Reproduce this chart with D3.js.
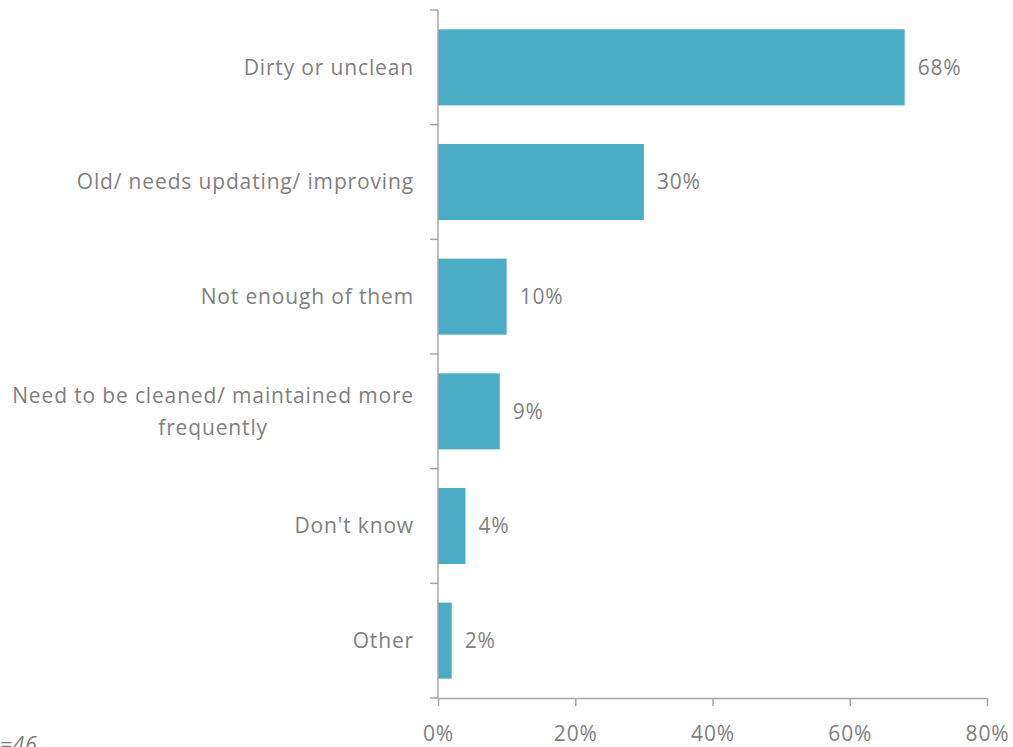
<!DOCTYPE html>
<html>
<head>
<meta charset="utf-8">
<script src="https://cdn.jsdelivr.net/npm/d3@7/dist/d3.min.js"></script>
<style>
  html, body { margin: 0; padding: 0; background: #fff; }
  svg { display: block; font-family: "Open Sans", "Noto Sans", sans-serif; letter-spacing: 0.85px; }
</style>
</head>
<body>
<svg id="chart" width="1013" height="747"></svg>
<script>
// Reasons given for rating the facilities poorly
const categories = [
  "Dirty or unclean",
  "Old/ needs updating/ improving",
  "Not enough of them",
  "Need to be cleaned/ maintained more|frequently",
  "Don't know",
  "Other"
];
const values = [0.68, 0.30, 0.10, 0.09, 0.04, 0.02];
const xTicks = [0, 0.2, 0.4, 0.6, 0.8];
const baseNote = "n=46";

const svg = d3.select("#chart");
const textColor = "#7f7f7f";
const axisColor = "#a6a6a6";
const barColor = "#4bacc6";
const fontSize = 21;

const plotTop = 10, plotBottom = 698;
const x = d3.scaleLinear().domain([0, 0.8]).range([438, 987]);
const y = d3.scaleBand().domain(categories).range([plotTop, plotBottom])
  .paddingInner(0.337).paddingOuter(0.1685);

// Bars
svg.append("g").selectAll("rect")
  .data(categories)
  .join("rect")
  .attr("x", x(0))
  .attr("y", d => y(d))
  .attr("width", (d, i) => x(values[i]) - x(0))
  .attr("height", y.bandwidth())
  .attr("fill", barColor);

// Value labels
svg.append("g").selectAll("text")
  .data(categories)
  .join("text")
  .attr("x", (d, i) => x(values[i]) + 13)
  .attr("y", d => y(d) + y.bandwidth() / 2)
  .attr("dy", "0.35em")
  .attr("fill", textColor)
  .attr("font-size", fontSize)
  .text((d, i) => Math.round(values[i] * 100) + "%");

// Y axis: line with tick marks on category boundaries
const step = y.step();
const yAxis = svg.append("g");
yAxis.append("line")
  .attr("x1", x(0)).attr("x2", x(0))
  .attr("y1", plotTop).attr("y2", plotBottom)
  .attr("stroke", axisColor).attr("stroke-width", 1.5);
yAxis.selectAll("line.tick")
  .data(d3.range(categories.length + 1))
  .join("line")
  .attr("class", "tick")
  .attr("x1", x(0) - 8).attr("x2", x(0))
  .attr("y1", i => plotTop + i * step).attr("y2", i => plotTop + i * step)
  .attr("stroke", axisColor).attr("stroke-width", 1.5);

// Category labels (multi-line entries centred on their block)
const labelRight = 414;
categories.forEach(c => {
  const lines = c.split("|");
  const cy = y(c) + y.bandwidth() / 2;
  const lh = 32;
  const t = svg.append("text")
    .attr("fill", textColor)
    .attr("font-size", fontSize);
  lines.forEach((ln, i) => {
    t.append("tspan")
      .attr("y", cy + (i - (lines.length - 1) / 2) * lh)
      .attr("dy", "0.35em")
      .text(ln);
  });
  if (lines.length === 1) {
    t.attr("text-anchor", "end");
    t.selectAll("tspan").attr("x", labelRight);
  } else {
    let maxW = 0;
    t.selectAll("tspan").each(function () {
      maxW = Math.max(maxW, this.getComputedTextLength());
    });
    t.attr("text-anchor", "middle");
    t.selectAll("tspan").attr("x", labelRight - maxW / 2);
  }
});

// X axis
const xAxis = d3.axisBottom(x)
  .tickValues(xTicks)
  .tickFormat(d3.format(".0%"))
  .tickSizeInner(8)
  .tickSizeOuter(0)
  .tickPadding(20);
const gx = svg.append("g")
  .attr("transform", `translate(0,${plotBottom})`)
  .call(xAxis);
gx.select(".domain").attr("stroke", axisColor).attr("stroke-width", 1.5);
gx.selectAll(".tick line").attr("stroke", axisColor).attr("stroke-width", 1.5);
gx.selectAll(".tick text")
  .attr("fill", textColor)
  .attr("font-size", fontSize)
  .attr("font-family", "\"Open Sans\", \"Noto Sans\", sans-serif");

// Base size note
svg.append("text")
  .attr("x", -13)
  .attr("y", 752)
  .attr("fill", textColor)
  .attr("font-size", fontSize)
  .attr("font-style", "italic")
  .text(baseNote);
</script>
</body>
</html>
